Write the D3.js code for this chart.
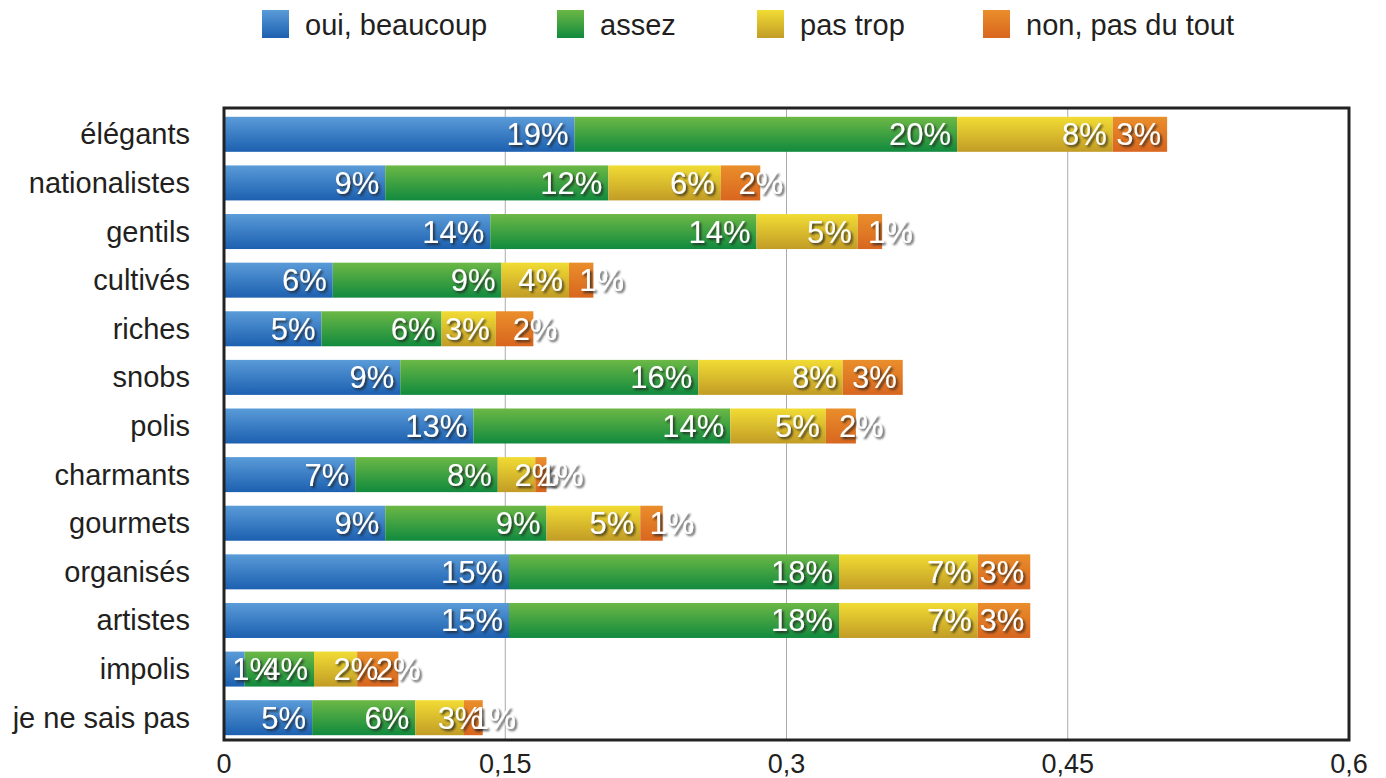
<!DOCTYPE html>
<html>
  <head>
    <meta charset="utf-8">
    <script src="https://cdn.jsdelivr.net/npm/d3@7"></script>
    <style>
      body { margin: 0; background: #fff; }
      text { font-family: "Liberation Sans", Arial, sans-serif; }
    </style>
  </head>
  <body>
    <svg id="chart" width="1386" height="778"></svg>
    <script>
    var categories = ["élégants", "nationalistes", "gentils", "cultivés", "riches", "snobs", "polis",
      "charmants", "gourmets", "organisés", "artistes", "impolis", "je ne sais pas"];
    var seriesNames = ["oui, beaucoup", "assez", "pas trop", "non, pas du tout"];
    var ouiBeaucoup = [0.187, 0.086, 0.142, 0.058, 0.052, 0.094, 0.133, 0.070, 0.086, 0.152, 0.152, 0.011, 0.047];
    var assez       = [0.204, 0.119, 0.142, 0.090, 0.064, 0.159, 0.137, 0.076, 0.086, 0.176, 0.176, 0.037, 0.055];
    var pasTrop     = [0.083, 0.060, 0.054, 0.036, 0.029, 0.077, 0.051, 0.020, 0.050, 0.074, 0.074, 0.023, 0.026];
    var pasDuTout   = [0.029, 0.021, 0.013, 0.013, 0.020, 0.032, 0.016, 0.006, 0.012, 0.028, 0.028, 0.022, 0.010];
    var tickValues = [0, 0.15, 0.3, 0.45, 0.6];

    var series = [ouiBeaucoup, assez, pasTrop, pasDuTout];
    var gradients = [["#5a9bd8", "#1c60b0"], ["#6cb845", "#118a3e"], ["#f1dc34", "#c29c26"], ["#ea8e2b", "#d8661f"]];

    var svg = d3.select("#chart");
    var plotLeft = 224, plotRight = 1349, plotTop = 108, plotBottom = 740;

    var x = d3.scaleLinear().domain([0, 0.6]).range([plotLeft, plotRight]);
    var y = d3.scaleBand().domain(categories).range([plotTop + 2, plotBottom + 2]).paddingInner(0.28).paddingOuter(0.14);

    var defs = svg.append("defs");
    gradients.forEach(function(g, i){
      var lg = defs.append("linearGradient").attr("id", "grad" + i)
        .attr("x1", 0).attr("y1", 0).attr("x2", 0).attr("y2", 1);
      lg.append("stop").attr("offset", "0%").attr("stop-color", g[0]);
      lg.append("stop").attr("offset", "100%").attr("stop-color", g[1]);
    });
    var shadow = defs.append("filter").attr("id", "shadow")
      .attr("x", "-20%").attr("y", "-20%").attr("width", "140%").attr("height", "150%");
    shadow.append("feDropShadow").attr("dx", 2).attr("dy", 2).attr("stdDeviation", 1.2)
      .attr("flood-color", "#222").attr("flood-opacity", 0.8);

    // grid
    svg.append("g").selectAll("line")
      .data(tickValues.slice(1, -1))
      .enter().append("line")
      .attr("x1", function(d){ return x(d); }).attr("x2", function(d){ return x(d); })
      .attr("y1", plotTop).attr("y2", plotBottom)
      .attr("stroke", "#aaa").attr("stroke-width", 1);

    // stacked bars
    var rows = categories.map(function(c, i){
      var acc = 0;
      return series.map(function(s, k){
        var d = { cat: c, k: k, v: s[i], x0: acc, x1: acc + s[i] };
        acc += s[i];
        return d;
      });
    });
    var segs = [].concat.apply([], rows);

    svg.append("g").selectAll("rect")
      .data(segs)
      .enter().append("rect")
      .attr("x", function(d){ return x(d.x0); })
      .attr("y", function(d){ return y(d.cat); })
      .attr("width", function(d){ return x(d.x1) - x(d.x0); })
      .attr("height", y.bandwidth())
      .attr("fill", function(d){ return "url(#grad" + d.k + ")"; });

    // value labels
    var labels = svg.append("g").selectAll("text")
      .data(segs)
      .enter().append("text")
      .attr("y", function(d){ return y(d.cat) + y.bandwidth() / 2 + 11; })
      .attr("text-anchor", "start")
      .attr("font-size", 31)
      .attr("fill", "#fff")
      .attr("filter", "url(#shadow)")
      .text(function(d){ return Math.round(d.v * 100) + "%"; });
    labels.attr("x", function(d){
      var w = this.getComputedTextLength();
      var x0 = x(d.x0), x1 = x(d.x1);
      return (w + 6 > x1 - x0) ? (x0 + x1) / 2 - 2 : x1 - 6 - w;
    });

    // frame
    svg.append("rect")
      .attr("x", plotLeft).attr("y", plotTop)
      .attr("width", plotRight - plotLeft).attr("height", plotBottom - plotTop)
      .attr("fill", "none").attr("stroke", "#222").attr("stroke-width", 3);

    // category labels
    svg.append("g").selectAll("text")
      .data(categories)
      .enter().append("text")
      .attr("x", 190)
      .attr("y", function(d){ return y(d) + y.bandwidth() / 2 + 10; })
      .attr("text-anchor", "end")
      .attr("font-size", 29)
      .attr("fill", "#231f20")
      .text(function(d){ return d; });

    // x axis labels
    var fmt = function(d){ return String(d).replace(".", ","); };
    svg.append("g").selectAll("text")
      .data(tickValues)
      .enter().append("text")
      .attr("x", function(d){ return x(d); })
      .attr("y", 773)
      .attr("text-anchor", "middle")
      .attr("font-size", 27)
      .attr("fill", "#231f20")
      .text(fmt);

    // legend
    var legendX = [262, 557, 757, 983];
    var legend = svg.append("g").selectAll("g")
      .data(seriesNames)
      .enter().append("g")
      .attr("transform", function(d, i){ return "translate(" + legendX[i] + ",10)"; });
    legend.append("rect")
      .attr("width", 27).attr("height", 28)
      .attr("fill", function(d, i){ return "url(#grad" + i + ")"; });
    legend.append("text")
      .attr("x", 43).attr("y", 25)
      .attr("font-size", 29)
      .attr("fill", "#231f20")
      .text(function(d){ return d; });
    </script>
  </body>
</html>
